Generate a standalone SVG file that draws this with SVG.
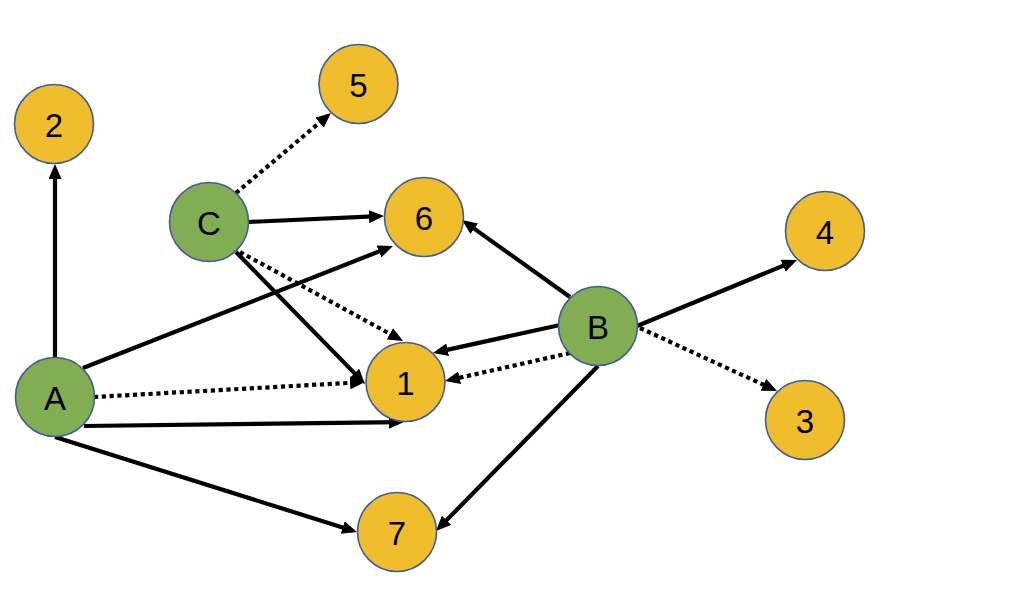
<svg xmlns="http://www.w3.org/2000/svg" width="1011" height="596" viewBox="0 0 1011 596">
<style>
.n circle{stroke:#3F5E98;stroke-width:1.6}
.y circle{fill:#F0BE2C}
.g circle{fill:#82AD52}
.n text{font-family:"Liberation Sans",Arial,sans-serif;font-size:33px;fill:#000;text-anchor:middle;dominant-baseline:central}
.e{stroke:#000;stroke-width:4.2;fill:none;marker-end:url(#ah)}
.d{stroke-dasharray:4.2 3.6}
</style>
<defs>
<marker id="ah" markerUnits="userSpaceOnUse" markerWidth="15" markerHeight="13" refX="10" refY="6.5" orient="auto">
<path d="M0,0 L15,6.5 L0,13 z" fill="#000"/>
</marker>
</defs>
<rect width="1011" height="596" fill="#fff"/>
<g id="connectors">
<line class="e" x1="55" y1="357" x2="55" y2="169"/>
<line class="e" x1="83" y1="368" x2="388.3" y2="247.8"/>
<line class="e d" x1="94" y1="397" x2="360" y2="382.3"/>
<line class="e" x1="84" y1="426" x2="399" y2="422.1"/>
<line class="e" x1="55" y1="437" x2="352.2" y2="530.5"/>
<line class="e d" x1="236" y1="193" x2="327.2" y2="116.2"/>
<line class="e" x1="248" y1="222" x2="379" y2="216.2"/>
<line class="e d" x1="240" y1="252" x2="398.6" y2="338.6"/>
<line class="e" x1="236" y1="252" x2="361.5" y2="380.4"/>
<line class="e" x1="570" y1="297" x2="466.1" y2="222.9"/>
<line class="e" x1="560" y1="325" x2="437.9" y2="351.9"/>
<line class="e d" x1="570" y1="353" x2="449.9" y2="379.9"/>
<line class="e" x1="598" y1="366" x2="439.5" y2="527.4"/>
<line class="e" x1="637" y1="326" x2="792.4" y2="261.9"/>
<line class="e d" x1="640" y1="328" x2="772.5" y2="388.9"/>
</g>
<g id="node-2" class="n y"><circle cx="54" cy="124" r="39.5"/><text x="54" y="125">2</text></g>
<g id="node-5" class="n y"><circle cx="358.5" cy="84" r="39.5"/><text x="358.5" y="85">5</text></g>
<g id="node-C" class="n g"><circle cx="209" cy="222" r="39.5"/><text x="209" y="223">C</text></g>
<g id="node-6" class="n y"><circle cx="424" cy="217" r="39.5"/><text x="424" y="218">6</text></g>
<g id="node-4" class="n y"><circle cx="825" cy="231" r="39.5"/><text x="825" y="232">4</text></g>
<g id="node-B" class="n g"><circle cx="598" cy="326" r="39.5"/><text x="598" y="327">B</text></g>
<g id="node-A" class="n g"><circle cx="55" cy="397" r="39.5"/><text x="55" y="398">A</text></g>
<g id="node-1" class="n y"><circle cx="405.5" cy="382" r="39.5"/><text x="405.5" y="383">1</text></g>
<g id="node-3" class="n y"><circle cx="805" cy="420" r="39.5"/><text x="805" y="421">3</text></g>
<g id="node-7" class="n y"><circle cx="397" cy="532" r="39.5"/><text x="397" y="533">7</text></g>
</svg>
